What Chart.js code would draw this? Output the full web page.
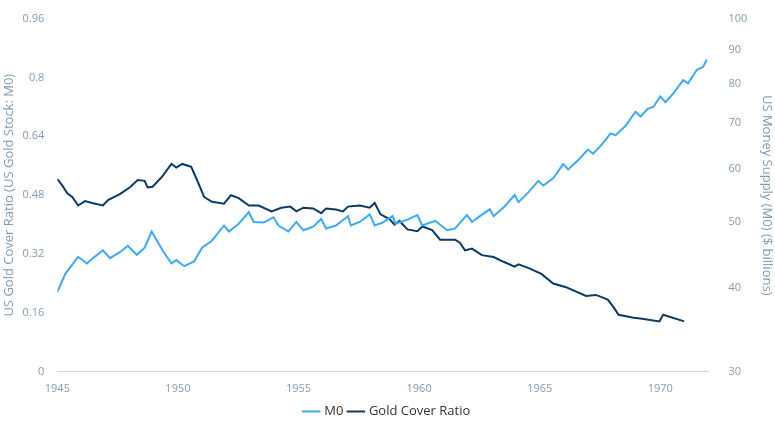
<!DOCTYPE html>
<html><head><meta charset="utf-8">
<script src="https://cdn.jsdelivr.net/npm/chart.js@4.4.0/dist/chart.umd.min.js"></script>
<style>html,body{margin:0;padding:0;background:#fff}#w{width:775px;height:428px}</style>
</head><body><div id="w"><canvas id="c"></canvas></div>
<script>
const m0Years=[1945.0,1945.33,1945.86,1946.23,1946.48,1946.89,1947.18,1947.59,1947.92,1948.29,1948.62,1948.91,1949.36,1949.73,1949.93,1950.26,1950.67,1951.0,1951.41,1951.91,1952.11,1952.52,1952.94,1953.14,1953.55,1953.96,1954.17,1954.58,1954.91,1955.2,1955.61,1955.94,1956.14,1956.55,1957.05,1957.17,1957.54,1957.95,1958.16,1958.49,1958.9,1959.02,1959.51,1959.93,1960.13,1960.67,1961.16,1961.49,1961.98,1962.19,1962.52,1962.93,1963.09,1963.54,1963.96,1964.12,1964.53,1964.94,1965.15,1965.56,1965.97,1966.18,1966.59,1967.0,1967.21,1967.53,1967.94,1968.15,1968.56,1968.97,1969.18,1969.47,1969.71,1970.0,1970.21,1970.53,1970.95,1971.15,1971.52,1971.77,1971.93];
const m0Values=[39.4,41.9,44.4,43.4,44.2,45.4,44.2,45.1,46.1,44.7,45.8,48.4,45.4,43.4,43.9,43.0,43.7,45.8,46.9,49.4,48.4,49.7,51.7,50.0,49.9,50.8,49.4,48.4,50.0,48.6,49.2,50.5,48.9,49.4,51.0,49.4,50.0,51.3,49.4,49.9,51.0,49.7,50.4,51.2,49.4,50.2,48.6,48.9,51.2,50.0,51.0,52.2,51.0,52.7,54.8,53.5,55.3,57.5,56.6,58.0,60.9,59.8,61.7,64.0,63.1,64.8,67.6,67.2,69.4,72.8,71.6,73.5,74.0,76.7,75.2,77.4,81.1,80.2,84.0,84.8,87.0];
const goldYears=[1945.0,1945.21,1945.41,1945.62,1945.86,1946.15,1946.44,1946.89,1947.1,1947.59,1948.0,1948.33,1948.62,1948.74,1948.95,1949.36,1949.73,1949.93,1950.18,1950.55,1950.76,1951.09,1951.41,1951.91,1952.2,1952.52,1952.94,1953.35,1953.88,1954.29,1954.66,1954.91,1955.2,1955.61,1955.94,1956.14,1956.55,1956.84,1957.05,1957.54,1957.95,1958.16,1958.4,1958.77,1958.98,1959.19,1959.51,1959.93,1960.13,1960.54,1960.87,1961.49,1961.69,1961.9,1962.19,1962.6,1963.09,1963.5,1963.96,1964.12,1964.57,1965.07,1965.56,1966.09,1966.92,1967.33,1967.82,1968.07,1968.27,1968.89,1969.18,1969.96,1970.12,1970.99];
const goldValues=[0.524,0.506,0.485,0.475,0.452,0.464,0.459,0.452,0.467,0.483,0.501,0.521,0.519,0.501,0.503,0.532,0.565,0.555,0.565,0.557,0.526,0.475,0.462,0.457,0.480,0.472,0.452,0.452,0.436,0.446,0.449,0.436,0.446,0.444,0.431,0.444,0.441,0.436,0.449,0.452,0.446,0.459,0.428,0.415,0.400,0.410,0.387,0.382,0.395,0.385,0.359,0.359,0.351,0.330,0.335,0.317,0.312,0.299,0.286,0.292,0.281,0.266,0.240,0.230,0.206,0.209,0.196,0.175,0.155,0.147,0.145,0.137,0.155,0.137];
const leftTicks=[0,0.16,0.32,0.48,0.64,0.8,0.96];
const rightTicks=[30,40,50,60,70,80,90,100];
const xTicks=[1945,1950,1955,1960,1965,1970];

const goldPts=goldValues.map((v,i)=>({x:goldYears[i],y:v}));
const m0Pts=m0Values.map((v,i)=>({x:m0Years[i],y:v}));
const tickCol='#7f9bb5', font='"Open Sans", sans-serif';
new Chart(document.getElementById('c'),{
 type:'line',
 data:{datasets:[
  {label:'M0',data:m0Pts,yAxisID:'y1',borderColor:'#3fa9f0',backgroundColor:'#3fa9f0',borderWidth:2,pointRadius:0,tension:0},
  {label:'Gold Cover Ratio',data:goldPts,yAxisID:'y',borderColor:'#0c3a63',backgroundColor:'#0c3a63',borderWidth:2,pointRadius:0,tension:0}
 ]},
 options:{responsive:true,maintainAspectRatio:false,animation:false,
  layout:{padding:{top:-12,left:0,right:0,bottom:0}},
  plugins:{tooltip:{enabled:false},legend:{position:'bottom',labels:{usePointStyle:true,pointStyle:'line',boxWidth:14,color:'#333',font:{family:font,size:13},padding:6}}},
  scales:{
   x:{type:'linear',min:1945,max:1972,grid:{display:false,drawTicks:true,tickLength:6},border:{color:'#c6d6ea'},
      afterBuildTicks:a=>{a.ticks=xTicks.map(v=>({value:v}));},
      ticks:{color:tickCol,font:{family:font,size:11},callback:v=>String(v),maxRotation:0,padding:4}},
   y:{position:'left',min:0,max:0.96,grid:{display:false},border:{display:false},
      afterBuildTicks:a=>{a.ticks=leftTicks.map(v=>({value:v}));},
      ticks:{color:tickCol,font:{family:font,size:11},callback:v=>String(v),padding:5},
      title:{display:true,text:'US Gold Cover Ratio (US Gold Stock: M0)',color:tickCol,font:{family:font,size:13},padding:1}},
   y1:{position:'right',type:'logarithmic',min:30,max:100,grid:{display:false},border:{display:false},
      afterBuildTicks:a=>{a.ticks=rightTicks.map(v=>({value:v}));},
      ticks:{color:tickCol,font:{family:font,size:11},callback:v=>String(v),padding:12},
      title:{display:true,text:'US Money Supply (M0) ($ billions)',color:tickCol,font:{family:font,size:13},padding:0}}
  }}
});
</script></body></html>
